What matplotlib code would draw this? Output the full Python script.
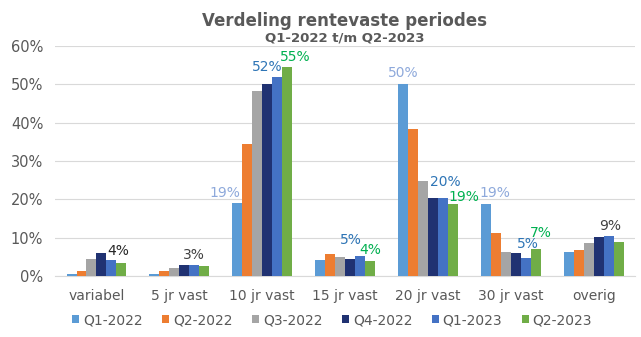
import numpy as np
import matplotlib
matplotlib.use("Agg")
import matplotlib.pyplot as plt
from matplotlib.patches import Patch

categories = ["variabel", "5 jr vast", "10 jr vast", "15 jr vast",
              "20 jr vast", "30 jr vast", "overig"]
series = ["Q1-2022", "Q2-2022", "Q3-2022", "Q4-2022", "Q1-2023", "Q2-2023"]

# percentages per series, one value per category
q1_2022 = [0.5, 0.6, 19.1, 4.2, 50.0, 18.7, 6.2]
q2_2022 = [1.4, 1.4, 34.5, 5.8, 38.3, 11.3, 6.8]
q3_2022 = [4.4, 2.0, 48.3, 5.0, 24.8, 6.3, 8.6]
q4_2022 = [5.9, 2.8, 50.0, 4.4, 20.4, 6.0, 10.2]
q1_2023 = [4.1, 2.8, 52.0, 5.3, 20.3, 4.6, 10.4]
q2_2023 = [3.5, 2.6, 54.6, 4.0, 18.7, 7.0, 9.0]
values = [q1_2022, q2_2022, q3_2022, q4_2022, q1_2023, q2_2023]

colors = ["#5B9BD5", "#ED7D31", "#A5A5A5", "#203272", "#4472C4", "#70AD47"]

# data labels: (category, series, text, colour, dx px, dy px)
labels = [
    (0, 4, "4%", "#262626", 7, 9),
    (1, 4, "3%", "#404040", 0, 10),
    (2, 0, "19%", "#8EA9DB", -12, 10),
    (2, 4, "52%", "#2E75B6", -10, 10),
    (2, 5, "55%", "#00B050", 8, 10),
    (3, 4, "5%", "#2E75B6", -9, 16),
    (3, 5, "4%", "#00B050", 0, 11),
    (4, 0, "50%", "#8EA9DB", 0, 11),
    (4, 4, "20%", "#2E75B6", 2, 16),
    (4, 5, "19%", "#00B050", 11, 7),
    (5, 0, "19%", "#8EA9DB", 9, 11),
    (5, 4, "5%", "#2E75B6", 2, 14),
    (5, 5, "7%", "#00B050", 5, 16),
    (6, 4, "9%", "#404040", 2, 10),
]

plt.rcParams['font.family'] = ['DejaVu Sans']
text_color = "#595959"

fig = plt.figure(figsize=(6.41, 3.37), dpi=100)
ax = fig.add_axes([0.0858, 0.181, 0.905, 0.6825])

x = np.arange(len(categories))
width = 0.12
for i, (name, vals, col) in enumerate(zip(series, values, colors)):
    offs = (i - 2.5) * width
    ax.bar(x + offs, vals, width, color=col, label=name, zorder=3)

for cat, s, txt, col, dx, dy in labels:
    xb = x[cat] + (s - 2.5) * width
    ax.annotate(txt, (xb, values[s][cat]), xytext=(dx, dy),
                textcoords="offset pixels", ha="center", va="center",
                color=col, fontsize=10, zorder=4)

ax.set_xlim(-0.5, len(categories) - 0.5)
ax.set_ylim(0, 60)
ax.set_yticks(np.arange(0, 61, 10))
ax.set_yticklabels([f"{v}%" for v in range(0, 61, 10)])
ax.set_xticks(x)
ax.set_xticklabels(categories)
ax.yaxis.grid(True, color="#D9D9D9", linewidth=0.8, zorder=0)
ax.tick_params(axis="y", length=0, labelsize=10.5, colors=text_color, pad=8.5)
ax.tick_params(axis="x", length=0, labelsize=10, colors=text_color, pad=9)
for sp in ["top", "right", "left"]:
    ax.spines[sp].set_visible(False)
ax.spines["bottom"].set_color("#D9D9D9")

# titles, placed in figure pixels
fig.text(345 / 641, 1 - 20.5 / 337, "Verdeling rentevaste periodes",
         ha="center", va="center", fontsize=12, fontweight="bold", color=text_color)
fig.text(345 / 641, 1 - 38 / 337, "Q1-2022 t/m Q2-2023",
         ha="center", va="center", fontsize=9.5, fontweight="bold", color=text_color)

handles = [Patch(facecolor=c, edgecolor="none") for c in colors]
fig.legend(handles, series, loc="center", bbox_to_anchor=(332 / 641, 1 - 320 / 337),
           ncol=6, frameon=False, fontsize=10, handlelength=0.55, handleheight=0.55,
           handletextpad=0.25, columnspacing=1.39, labelcolor=text_color,
           borderaxespad=0, borderpad=0)

fig.savefig("out.png", dpi=100)
